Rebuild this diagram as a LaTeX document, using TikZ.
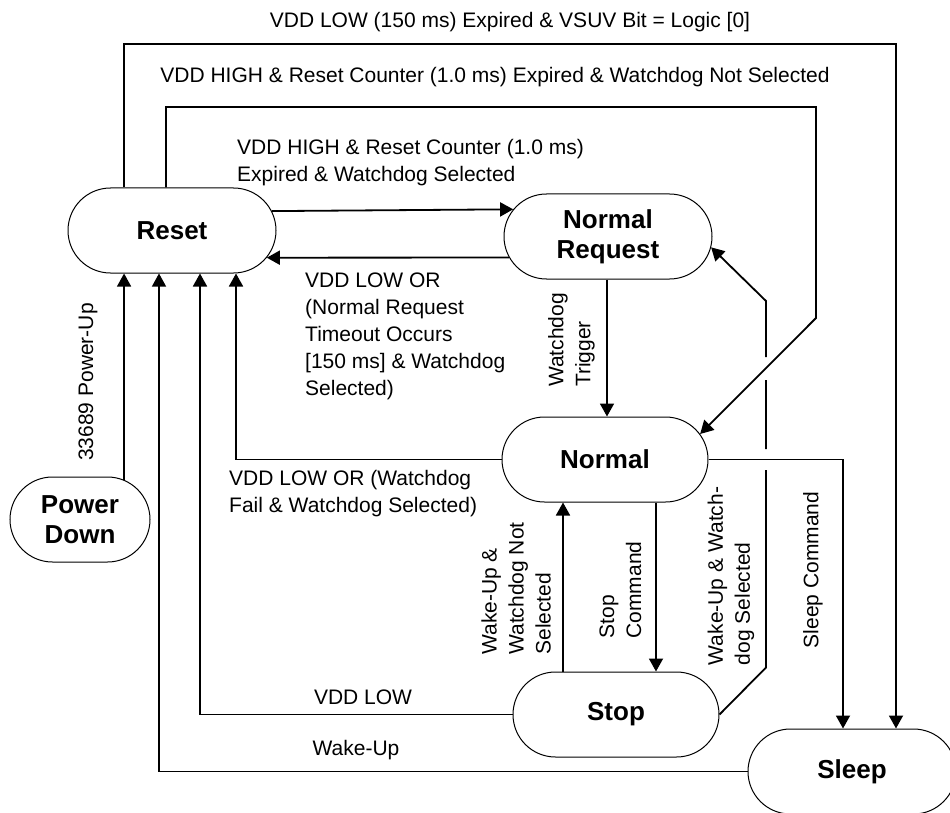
\documentclass[tikz,border=0pt]{standalone}
\usepackage{fontspec}
\setmainfont{Liberation Sans}
\usetikzlibrary{arrows.meta,shapes.misc}

\begin{document}
\begin{tikzpicture}[x=1pt, y=-1pt,
  state/.style={rounded rectangle, draw, line width=1pt, minimum width=208pt, minimum height=85pt, align=center, inner sep=0pt, font=\bfseries\fontsize{26}{30}\selectfont},
  lbl/.style={inner sep=0pt, align=left, font=\fontsize{21}{27}\selectfont},
  arr/.style={-{Triangle[length=13pt, width=14pt]}, line width=1.8pt},
  thinarr/.style={arr, line width=1.2pt}
]
\useasboundingbox (0,0) rectangle (950,813);

% States
\node[state] (reset) at (172,230.5) {Reset};
\node[state] (nreq) at (608,236.5) {Normal\\Request};
\node[state, minimum width=206pt] (normal) at (605,459.5) {Normal};
\node[state, minimum width=206pt] (stop) at (616,714.5) {Stop};
\node[state] (sleep) at (852,771.5) {Sleep};
\node[state, minimum width=140pt] (pdown) at (80,519.5) {Power\\Down};

% Transition labels
\node[lbl] (lowexp) at (510,22) {VDD LOW (150 ms) Expired \& VSUV Bit = Logic [0]};
\node[lbl] (highnot) at (495,77) {VDD HIGH \& Reset Counter (1.0 ms) Expired \& Watchdog Not Selected};
\node[lbl, anchor=west] (highsel) at (237,162.5) {VDD HIGH \& Reset Counter (1.0 ms)\\Expired \& Watchdog Selected};
\node[lbl, anchor=west] (nrtime) at (305,336.5) {VDD LOW OR\\(Normal Request\\Timeout Occurs\\{[150 ms]} \& Watchdog\\Selected)};
\node[lbl, rotate=90] (wdtrig) at (571.5,340) {Watchdog\\Trigger};
\node[lbl, rotate=90] (powerup) at (88,382) {33689 Power-Up};
\node[lbl, anchor=west] (wdfail) at (229,494) {VDD LOW OR (Watchdog\\Fail \& Watchdog Selected)};
\node[lbl, rotate=90] (wunot) at (516,588.5) {Wake-Up \&\\Watchdog Not\\Selected};
\node[lbl, rotate=90] (stopcmd) at (620.5,590) {Stop\\Command};
\node[lbl, rotate=90] (wusel) at (731,576) {Wake-Up \& Watch-\\dog Selected};
\node[lbl, rotate=90] (sleepcmd) at (813,570) {Sleep Command};
\node[lbl] (vddlow) at (363,697) {VDD LOW};
\node[lbl] (wakeup) at (356,750) {Wake-Up};

% Outer loops from Reset
\coordinate (outer) at (896,44);
\coordinate (inner) at (816,107);
\draw[arr] ([xshift=-48pt]reset.north) |- (outer) -- (outer |- sleep.north);
\draw[arr] ([xshift=-6pt]reset.north) |- (inner) -- ++(0,211) -- (normal.15);

% Reset <-> Normal Request
\draw[arr] (reset.11.7) -- (nreq.164.4);
\draw[arr] (nreq.192.35) -- (reset.-16.32);
\draw[arr] ([xshift=-1pt]nreq.south) -- ([xshift=-1pt]nreq.south |- normal.north);

% Normal
\draw[arr] (normal.west) -| ([xshift=64pt]reset.south);
\draw[arr] (normal.east) -| ([xshift=-9pt]sleep.north);
\draw[arr] ([xshift=51pt]normal.south) -- ([xshift=51pt]normal.south |- stop.north);

% Stop
\draw[arr] ([xshift=-53pt]stop.north) -- ([xshift=-53pt]stop.north |- normal.south);
\draw[arr] (stop.west) -| ([xshift=28pt]reset.south);
\draw[arr] (stop.east) -- (766,667.5) -- (766,470) (766,449) -- (766,380) (766,357) -- (766,301) -- (nreq.-6);

% Sleep and Power Down
\draw[thinarr] (sleep.west) -| ([xshift=-13pt]reset.south);
\draw[thinarr] (pdown.42.6) -- (pdown.42.6 |- reset.south);

\end{tikzpicture}
\end{document}
